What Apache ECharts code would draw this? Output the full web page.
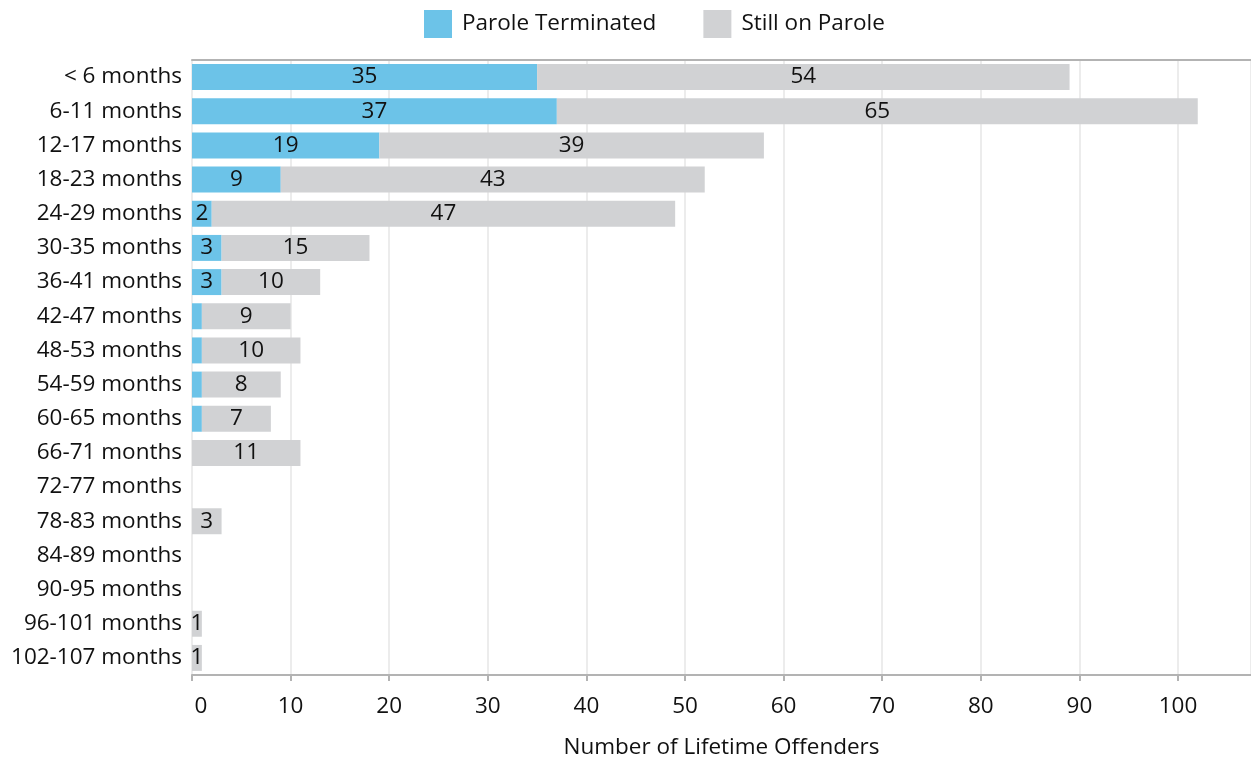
<!DOCTYPE html>
<html>
<head>
<meta charset="utf-8">
<script src="https://cdn.jsdelivr.net/npm/echarts@6/dist/echarts.min.js"></script>
<style>
html,body{margin:0;padding:0;background:#fff;}
#chart{width:1251px;height:762px;}
</style>
</head>
<body>
<div id="chart"></div>
<script>
var categories = ['< 6 months','6-11 months','12-17 months','18-23 months','24-29 months','30-35 months','36-41 months','42-47 months','48-53 months','54-59 months','60-65 months','66-71 months','72-77 months','78-83 months','84-89 months','90-95 months','96-101 months','102-107 months'];
var paroleTerminated = [35,37,19,9,2,3,3,1,1,1,1,0,0,0,0,0,0,0];
var stillOnParole = [54,65,39,43,47,15,10,9,10,8,7,11,0,3,0,0,1,1];
var seriesNames = ['Parole Terminated','Still on Parole'];
var xTicks = {min:0, max:107.4, interval:10};

var FONT = 'Open Sans';
var FS = 22.5;
var chart = echarts.init(document.getElementById('chart'));
chart.setOption({
  animation:false,
  textStyle:{fontFamily:FONT},
  legend:{
    top:10, left:424, padding:0,
    itemWidth:28, itemHeight:28, itemGap:47,
    icon:'rect',
    textStyle:{fontSize:FS, color:'#111', fontFamily:FONT, padding:[4,0,0,5]},
    data:seriesNames
  },
  grid:{left:192, right:0, top:60, bottom:87, outerBoundsMode:'none', containLabel:false},
  xAxis:[{
    type:'value', min:xTicks.min, max:xTicks.max, interval:xTicks.interval,
    name:'Number of Lifetime Offenders', nameLocation:'middle', nameGap:61,
    nameTextStyle:{fontSize:FS, color:'#111', fontFamily:FONT},
    axisLine:{show:true, lineStyle:{color:'#b3b3b3', width:2}},
    axisTick:{show:true, length:6, lineStyle:{color:'#b3b3b3', width:2}},
    axisLabel:{fontSize:FS, color:'#111', margin:20, fontFamily:FONT, showMaxLabel:false,
      formatter:function(v){return v===0?'{z|0}':String(v);},
      rich:{z:{fontSize:FS, color:'#111', fontFamily:FONT, padding:[0,0,0,18]}}},
    splitLine:{show:true, lineStyle:{color:'#ececec', width:2}}
  },{
    type:'value', position:'top', min:xTicks.min, max:xTicks.max, interval:xTicks.interval,
    axisLine:{show:true, lineStyle:{color:'#b3b3b3', width:2}},
    axisTick:{show:false}, axisLabel:{show:false}, splitLine:{show:false}
  }],
  yAxis:{
    type:'category', inverse:true, data:categories,
    axisLine:{show:false}, axisTick:{show:false},
    axisLabel:{fontSize:FS, color:'#111', margin:10, fontFamily:FONT, padding:[4,0,0,0]}
  },
  series:[{
    name:seriesNames[0], type:'bar', stack:'a', data:paroleTerminated,
    barCategoryGap:'24%',
    itemStyle:{color:'#6cc3e8'},
    label:{show:true, position:'inside', color:'#111', fontSize:FS, fontFamily:FONT, padding:[4,0,0,0],
      formatter:function(p){return p.value>=2?String(p.value):'';}}
  },{
    name:seriesNames[1], type:'bar', stack:'a', data:stillOnParole,
    barCategoryGap:'24%',
    itemStyle:{color:'#d1d2d4'},
    label:{show:true, position:'inside', color:'#111', fontSize:FS, fontFamily:FONT, padding:[4,0,0,0],
      formatter:function(p){return p.value>0?String(p.value):'';}}
  }]
});
</script>
</body>
</html>
